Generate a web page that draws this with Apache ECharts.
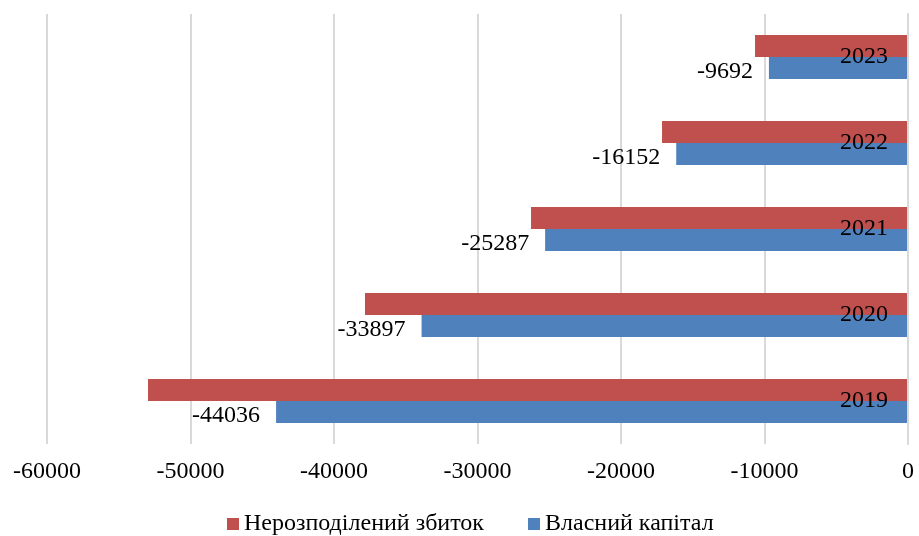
<!DOCTYPE html>
<html>
<head>
<meta charset="utf-8">
<script src="https://cdn.jsdelivr.net/npm/echarts@6/dist/echarts.min.js"></script>
<style>
  html, body { margin: 0; padding: 0; background: #fff; }
  #chart { width: 919px; height: 536px; }
</style>
</head>
<body>
<div id="chart"></div>
<script>
// data
const years = ["2019", "2020", "2021", "2022", "2023"];
const loss = [-52960, -37840, -26270, -17140, -10660];     // Нерозподілений збиток
const equity = [-44036, -33897, -25287, -16152, -9692];    // Власний капітал
const seriesNames = ["Нерозподілений збиток", "Власний капітал"];

const font = "'Liberation Serif', 'Times New Roman', serif";

const chart = echarts.init(document.getElementById("chart"));
chart.setOption({
  animation: false,
  textStyle: { fontFamily: font, fontSize: 24, color: "#000" },
  color: ["#C0504D", "#4F81BD"],
  grid: { left: 47, right: 11, top: 14, bottom: 92, containLabel: false, outerBoundsMode: "none" },
  legend: {
    bottom: -5,
    left: 222,
    itemWidth: 12,
    itemHeight: 12,
    itemGap: 44,
    icon: "rect",
    data: seriesNames,
    textStyle: { fontFamily: font, fontSize: 24, color: "#000" }
  },
  xAxis: {
    type: "value",
    min: -60000,
    max: 0,
    interval: 10000,
    axisLine: { show: false },
    axisTick: { show: false },
    axisLabel: {
      fontFamily: font, fontSize: 24, color: "#000", margin: 16,
      formatter: (v) => String(v)
    },
    splitLine: { lineStyle: { color: "#d9d9d9", width: 2 } }
  },
  yAxis: {
    type: "category",
    data: years,
    position: "right",
    axisLine: { show: true, lineStyle: { color: "#d9d9d9", width: 2 } },
    axisTick: { show: false },
    axisLabel: { inside: true, fontFamily: font, fontSize: 24, color: "#000", margin: 20 },
    z: 10
  },
  series: [
    {
      name: seriesNames[0],
      type: "bar",
      data: loss,
      barWidth: 22,
      barGap: "0%"
    },
    {
      name: seriesNames[1],
      type: "bar",
      data: equity,
      barWidth: 22,
      barGap: "0%",
      label: {
        show: true,
        position: "left",
        distance: 16,
        offset: [0, 4],
        fontFamily: font,
        fontSize: 24,
        color: "#000"
      }
    }
  ]
});
</script>
</body>
</html>
